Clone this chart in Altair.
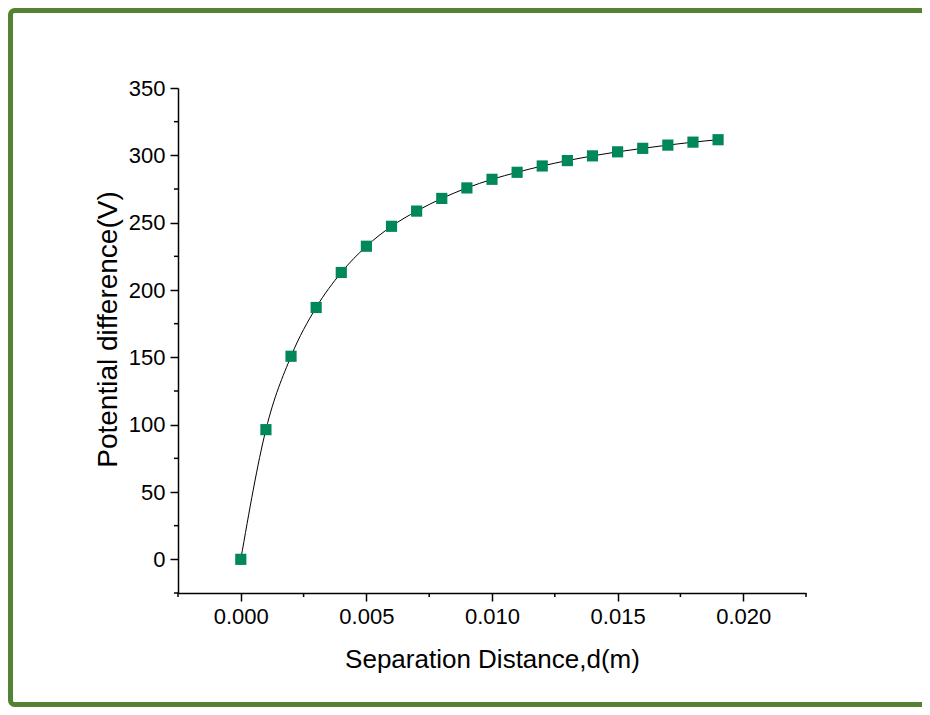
import altair as alt
import pandas as pd

# Data
distance = [0.000, 0.001, 0.002, 0.003, 0.004, 0.005, 0.006, 0.007, 0.008, 0.009,
            0.010, 0.011, 0.012, 0.013, 0.014, 0.015, 0.016, 0.017, 0.018, 0.019]
potential = [0.0, 96.3, 150.8, 187.0, 213.0, 232.5, 247.3, 258.6, 268.0, 275.8,
             282.2, 287.4, 292.1, 296.1, 299.6, 302.6, 305.2, 307.6, 309.8, 311.6]

x_major_ticks = [0.0, 0.005, 0.01, 0.015, 0.02]
x_minor_ticks = [-0.0025, 0.0025, 0.0075, 0.0125, 0.0175, 0.0225]
y_major_ticks = [0, 50, 100, 150, 200, 250, 300, 350]
y_minor_ticks = [-25, 25, 75, 125, 175, 225, 275, 325]

df = pd.DataFrame({"d": distance, "v": potential})
xminor_df = pd.DataFrame({"d": x_minor_ticks})
yminor_df = pd.DataFrame({"v": y_minor_ticks})

FONT = "Arial, Liberation Sans"
W, H = 628, 505

x_scale = alt.Scale(domain=[-0.0025, 0.0225], nice=False, zero=False)
y_scale = alt.Scale(domain=[-25, 350], nice=False, zero=False)

x_enc = alt.X(
    "d:Q", scale=x_scale,
    axis=alt.Axis(
        values=x_major_ticks, format=".3f",
        title="Separation Distance,d(m)",
        tickSize=8, grid=False,
        domainColor="black", domainWidth=1.5,
        tickColor="black", tickWidth=1.5,
        labelFont=FONT, labelFontSize=22, labelColor="black", labelPadding=5,
        labelOverlap=False, labelFlush=False,
        titleFont=FONT, titleFontSize=26, titleFontWeight="normal",
        titleColor="black", titlePadding=19,
    ),
)
y_enc = alt.Y(
    "v:Q", scale=y_scale,
    axis=alt.Axis(
        values=y_major_ticks, format="d",
        title="Potential difference(V)",
        tickSize=8, grid=False,
        domainColor="black", domainWidth=1.5,
        tickColor="black", tickWidth=1.5,
        labelFont=FONT, labelFontSize=22, labelColor="black", labelPadding=5,
        labelOverlap=False, labelFlush=False,
        titleFont=FONT, titleFontSize=28, titleFontWeight="normal",
        titleColor="black", titlePadding=6, titleY=241,
    ),
)

line = alt.Chart(df).mark_line(color="black", strokeWidth=1, interpolate="monotone").encode(
    x=x_enc, y=y_enc
)
points = alt.Chart(df).mark_point(
    shape="square", filled=True, size=125, color="#00885A", opacity=1
).encode(x=alt.X("d:Q", scale=x_scale), y=alt.Y("v:Q", scale=y_scale))

x_minor = alt.Chart(xminor_df).mark_rule(color="black", strokeWidth=1.5).encode(
    x=alt.X("d:Q", scale=x_scale), y=alt.value(H), y2=alt.value(H + 4)
)
y_minor = alt.Chart(yminor_df).mark_rule(color="black", strokeWidth=1.5).encode(
    y=alt.Y("v:Q", scale=y_scale), x=alt.value(0), x2=alt.value(-4)
)

frame = alt.Chart(pd.DataFrame({"k": [0]})).mark_rect(
    fill=None, stroke="#548235", strokeWidth=5, cornerRadius=4
).encode(
    x=alt.value(-167.5), x2=alt.value(780),
    y=alt.value(-77.5), y2=alt.value(616.5),
)

chart = alt.layer(line, points, x_minor, y_minor, frame).properties(
    width=W, height=H,
    padding={"left": 170, "top": 80, "right": 116, "bottom": 114},
    autosize=alt.AutoSizeParams(type="none"),
).configure(background="white").configure_view(stroke=None)

chart.save("out.html", embed_options={"renderer": "svg", "actions": False})
